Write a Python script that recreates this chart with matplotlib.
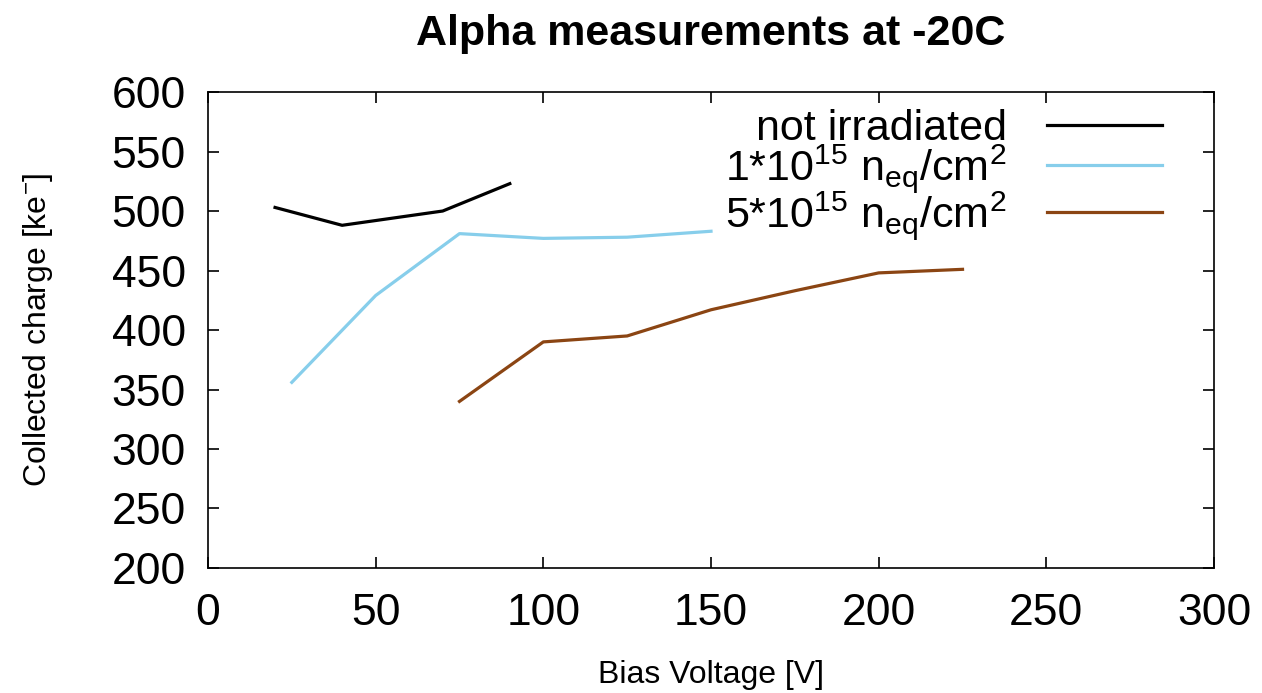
import matplotlib
matplotlib.use("Agg")
import matplotlib.pyplot as plt

plt.rcParams['font.family'] = ['Liberation Sans', 'DejaVu Sans']
plt.rcParams['mathtext.fontset'] = 'custom'
plt.rcParams['mathtext.rm'] = 'Liberation Sans'
plt.rcParams['mathtext.it'] = 'Liberation Sans'
plt.rcParams['mathtext.default'] = 'regular'

# data
v_none = [20, 40, 70, 90]
q_none = [503, 488, 500, 523]

v_1e15 = [25, 50, 75, 100, 125, 150]
q_1e15 = [356, 429, 481, 477, 478, 483]

v_5e15 = [75, 100, 125, 150, 175, 200, 225]
q_5e15 = [340, 390, 395, 417, 433, 448, 451]

labels = ['not irradiated',
          r'1*10$^{15}$ n$_{eq}$/cm$^{2}$',
          r'5*10$^{15}$ n$_{eq}$/cm$^{2}$']
colors = ['black', '#87CEEB', '#8B4513']

fig = plt.figure(figsize=(12.62, 6.93), dpi=100)
ax = fig.add_axes([0.1648, 0.1804, 0.7972, 0.6868])

ax.plot(v_none, q_none, color=colors[0], lw=2.3, label=labels[0])
ax.plot(v_1e15, q_1e15, color=colors[1], lw=2.3, label=labels[1])
ax.plot(v_5e15, q_5e15, color=colors[2], lw=2.3, label=labels[2])

ax.set_xlim(0, 300)
ax.set_ylim(200, 600)
ax.set_xticks(range(0, 301, 50))
ax.set_yticks(range(200, 601, 50))
ax.tick_params(direction='in', top=True, right=True, length=8, width=1.2,
               labelsize=32)
ax.tick_params(axis='x', pad=18)
ax.tick_params(axis='y', pad=16)
for s in ax.spines.values():
    s.set_linewidth(1.2)

ax.set_title('Alpha measurements at -20C', fontsize=31, fontweight='bold', pad=34)
ax.set_xlabel('Bias Voltage [V]', fontsize=23, labelpad=19)
ax.set_ylabel(r'Collected charge [ke$^{-}$]', fontsize=23, labelpad=41)

leg = ax.legend(loc='upper right', frameon=False, markerfirst=False, fontsize=31,
                handlelength=2.67, handletextpad=0.93, labelspacing=-0.15,
                borderaxespad=0.0, borderpad=0.0, bbox_to_anchor=(0.948, 0.965))

fig.savefig('out.png', dpi=100, facecolor='white')
